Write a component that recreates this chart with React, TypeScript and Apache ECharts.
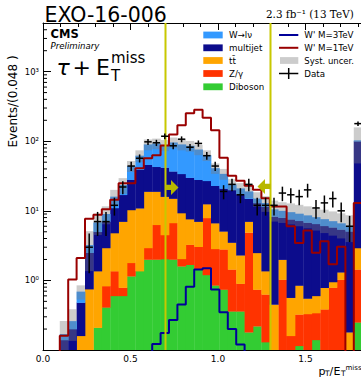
import React, { useEffect, useRef } from "react";
import * as echarts from "echarts";

// ---------------- data (bins of width 0.048 starting at 0) ----------------
const BIN_WIDTH = 0.048;
const X_TICK_LABELS = ["0.0", "0.5", "1.0", "1.5"];
const Y_TICK_EXPONENTS = [0, 1, 2, 3];
const CUT_LOW = 0.7;
const CUT_HIGH = 1.3;

const diboson = [0, 0, 0, 0, 0, 0, 0.21, 0.41, 0.6, 0.6, 1.15, 1.36, 2.0, 2.0, 2.03, 2.0, 1.6, 1.68, 1.44, 1.2, 0.85, 0.74, 0.36, 0.36, 0.18, 0.22, 0.13, 0, 0, 0, 0.115, 0, 0.14, 0, 0, 0, 0, 0.25];
const zgamma = [0, 0, 0, 0, 0, 0, 0, 0.42, 0.76, 0.19, 0.64, 0, 0.93, 4.3, 2.47, 4.7, 0.44, 1.59, 1.61, 6.7, 1.99, 2.06, 1.08, 0.54, 4.72, 0.52, 0.5, 0, 1.03, 0.16, 0.21, 0.33, 0.2, 0.385, 0.79, 1.03, 0, 1.19];
const ttbar = [0, 0, 0, 0, 0.16, 0.75, 1.15, 2.1, 3.44, 6.21, 8.51, 9.54, 15.97, 12.6, 11.5, 8.3, 7.26, 4.33, 3.95, 4.6, 3.82, 2.27, 2.06, 1.4, 2.1, 1.75, 0.73, 0.45, 0.96, 0.405, 0.52, 0.22, 0.26, 0.4, 0.16, 0.28, 0.18, 1.49];
const multijet = [0, 0, 0.14, 0.2, 0.32, 1.75, 3.64, 4.07, 6.2, 10.0, 17.7, 28.1, 27.1, 24.1, 26, 22, 24.7, 22.4, 21, 14.5, 16.3, 15.9, 16.5, 15.2, 8.0, 10.5, 10.1, 7.85, 6.0, 7.0, 6.35, 6.25, 5.9, 5.3, 4.85, 4.1, 4.89, 97];
const wlnu = [0, 0, 0.03, 0.06, 0.21, 0.73, 1.8, 2.0, 5.0, 6.5, 16, 23, 44, 50, 46, 59, 56, 56, 48, 36, 18, 13, 4, 3.5, 4, 2, 1.5, 2.2, 2.0, 2.0, 1.9, 1.8, 1.6, 1.5, 1.3, 1.2, 1.03, 3];
const systUnc = [0, 0, 0.09, 0.125, 0.16, 1.87, 2.3, 2.6, 4, 6, 8, 12, 16, 16, 16, 17, 16, 15, 13, 11, 7, 6, 4.5, 4, 3.8, 3.5, 3.3, 3.5, 3.3, 3.2, 3.1, 3.0, 2.9, 2.8, 2.7, 2.6, 2.55, 55];
const dataCounts: (number | null)[] = [null, null, null, null, null, 3, 7, 7, 12, 22, 44, 57, 98, 95, 118, 86, 107, 82, 93, 62, 44, 19, 24, 17, 24, 12, 12, 12, 18, 17, 16, 20, 11, 13, 15, 10, 6, 179];
const wprime1TeV = [0, 0, 0.16, 1.03, 2.1, 7.7, 8.8, 10.5, 14.4, 25, 25, 41, 57, 63, 87, 125, 170, 252, 283, 217, 144, 58, 32, 27, 23, 20, 15.2, 11.5, 11.5, 6, 3.45, 5.2, 2.5, 3.65, 1.7, 3.05, 0, 13];
const wprime3TeV = [0, 0, 0, 0, 0, 0, 0, 0, 0, 0, 0, 0, 0, 0.122, 0.175, 0.27, 0.45, 0.81, 1.43, 1.5, 0.74, 0.35, 0.2, 0.12, 0, 0, 0, 0, 0, 0, 0, 0, 0, 0, 0, 0, 0, 0];
const cutArrowLevels = [21.7, 22.4];

// ---------------- styling ----------------
const Y_MIN = 0.1;
const Y_MAX = 5000;
const X_MAX = 2.4;
const FLOOR = 1e-3;
const FONT = "DejaVu Sans";
const C_DIB = "#33cc33";
const C_Z = "#ff3300";
const C_TT = "#ffa500";
const C_MJ = "#0c0c8c";
const C_W = "#3399ff";
const C_BAND = "rgba(124,124,124,0.39)";
const C_1TEV = "#990000";
const C_3TEV = "#000099";
const C_CUT = "#c8c800";

const N = diboson.length;

function buildOption() {
  const layers = [
    { name: "Diboson", values: diboson, color: C_DIB },
    { name: "Z/\u03b3", values: zgamma, color: C_Z },
    { name: "tt\u0304", values: ttbar, color: C_TT },
    { name: "multijet", values: multijet, color: C_MJ },
    { name: "W\u2192l\u03bd", values: wlnu, color: C_W },
  ];
  const cum = new Array(N).fill(0);
  const stackSeries: any[] = layers.map((l) => {
    const data: number[][] = [];
    for (let i = 0; i < N; i++) {
      const lo = cum[i];
      const hi = lo + l.values[i];
      cum[i] = hi;
      if (l.values[i] > 0) data.push([i * BIN_WIDTH, (i + 1) * BIN_WIDTH, Math.max(lo, FLOOR), hi]);
    }
    return {
      type: "custom",
      name: l.name,
      z: 1,
      silent: true,
      clip: true,
      encode: { x: [0, 1], y: [2, 3] },
      data,
      renderItem: (params: any, api: any) => {
        const a = api.coord([api.value(0), api.value(3)]);
        const b = api.coord([api.value(1), api.value(2)]);
        return {
          type: "rect",
          shape: { x: a[0], y: a[1], width: b[0] - a[0] + 0.35, height: b[1] - a[1] + 0.3 },
          style: { fill: l.color },
        };
      },
    };
  });
  const total = cum.slice();

  const bandData: number[][] = [];
  for (let i = 0; i < N; i++) {
    if (systUnc[i] > 0) bandData.push([i * BIN_WIDTH, (i + 1) * BIN_WIDTH, Math.max(total[i] - systUnc[i], FLOOR), total[i] + systUnc[i]]);
  }
  const bandSeries = {
    type: "custom",
    name: "Syst. uncer.",
    z: 2,
    silent: true,
    clip: true,
    encode: { x: [0, 1], y: [2, 3] },
    data: bandData,
    renderItem: (params: any, api: any) => {
      const a = api.coord([api.value(0), api.value(3)]);
      const b = api.coord([api.value(1), api.value(2)]);
      return {
        type: "rect",
        shape: { x: a[0], y: a[1], width: b[0] - a[0], height: b[1] - a[1] },
        style: { fill: C_BAND },
      };
    },
  };

  const step = (vals: number[]) => {
    const d: number[][] = vals.map((v, i) => [i * BIN_WIDTH, v > 0 ? v : FLOOR]);
    d.push([N * BIN_WIDTH, vals[N - 1] > 0 ? vals[N - 1] : FLOOR]);
    return d;
  };
  const signal = (name: string, vals: number[], color: string) => ({
    type: "line",
    name,
    step: "end",
    z: 3,
    silent: true,
    symbol: "none",
    clip: true,
    data: step(vals),
    lineStyle: { color, width: 2 },
  });

  const dataSeries = {
    type: "custom",
    name: "Data",
    z: 6,
    silent: true,
    clip: true,
    encode: { x: [0, 1], y: 2 },
    data: dataCounts
      .map((v, i) => (v == null ? null : [i * BIN_WIDTH, (i + 1) * BIN_WIDTH, v]))
      .filter((d) => d != null),
    renderItem: (params: any, api: any) => {
      const x0 = api.value(0);
      const x1 = api.value(1);
      const v = api.value(2);
      const e = Math.sqrt(v);
      const xc = (x0 + x1) / 2;
      const pl = api.coord([x0, v]);
      const pr = api.coord([x1, v]);
      const pt = api.coord([xc, v + e]);
      const pb = api.coord([xc, Math.max(v - e, FLOOR)]);
      const st = { stroke: "#000", lineWidth: 1.5 };
      return {
        type: "group",
        children: [
          { type: "line", shape: { x1: pl[0] + 0.5, y1: pl[1], x2: pr[0] - 0.5, y2: pr[1] }, style: st },
          { type: "line", shape: { x1: pt[0], y1: pt[1], x2: pb[0], y2: pb[1] }, style: st },
        ],
      };
    },
  };

  const cutSeries = {
    type: "custom",
    name: "cuts",
    z: 5,
    silent: true,
    clip: true,
    encode: { x: 0, y: 1 },
    data: [
      [CUT_LOW, cutArrowLevels[0], 1],
      [CUT_HIGH, cutArrowLevels[1], -1],
    ],
    renderItem: (params: any, api: any) => {
      const x = api.value(0);
      const lvl = api.value(1);
      const dir = api.value(2);
      const top = api.coord([x, Y_MAX]);
      const bot = api.coord([x, Y_MIN]);
      const p = api.coord([x, lvl]);
      const pts = [
        [0, -2.6], [5.5, -2.6], [5.5, -7.5], [13, 0], [5.5, 7.5], [5.5, 2.6], [0, 2.6],
      ].map(([dx, dy]) => [p[0] + dir * dx, p[1] + dy]);
      return {
        type: "group",
        children: [
          { type: "line", shape: { x1: top[0], y1: top[1], x2: bot[0], y2: bot[1] }, style: { stroke: C_CUT, lineWidth: 2 } },
          { type: "polygon", shape: { points: pts }, style: { fill: "#b8b800" } },
        ],
      };
    },
  };

  const minorY: number[][] = [];
  for (let k = -1; k <= 3; k++) {
    for (let m = 2; m <= 9; m++) {
      const v = m * Math.pow(10, k);
      if (v < Y_MAX) minorY.push([0, v]);
    }
  }
  const minorTickSeries = {
    type: "custom",
    name: "minor",
    z: 7,
    silent: true,
    encode: { x: 0, y: 1 },
    data: minorY,
    renderItem: (params: any, api: any) => {
      const p = api.coord([api.value(0), api.value(1)]);
      return { type: "line", shape: { x1: p[0], y1: p[1], x2: p[0] + 4, y2: p[1] }, style: { stroke: "#000", lineWidth: 1 } };
    },
  };

  const SUP: Record<string, string> = { "0": "\u2070", "1": "\u00b9", "2": "\u00b2", "3": "\u00b3" };

  const axisLineStyle = { color: "#000", width: 1 };
  const xAxisBase = {
    type: "value",
    min: 0,
    max: X_MAX,
    interval: 0.5,
    axisLine: { show: true, onZero: false, lineStyle: axisLineStyle },
    axisTick: { show: true, inside: true, length: 7, lineStyle: { color: "#000" } },
    minorTick: { show: true, splitNumber: 5, length: 4, lineStyle: { color: "#000" } },
    splitLine: { show: false },
  };

  const txt = (text: string, x: number, y: number, size: number, extra: any = {}) => ({
    type: "text",
    x,
    y,
    z: 100,
    silent: true,
    style: {
      text,
      fontSize: size,
      fontFamily: FONT,
      fill: "#000",
      align: "left",
      textAlign: "left",
      verticalAlign: "middle",
      textVerticalAlign: "middle",
      ...extra,
    },
  });

  const rows = [35, 47.8, 60.5, 73.5, 86.8];
  const graphic: any[] = [
    txt("EXO-16-006", 44.5, 14.5, 20.5),
    txt("2.3 fb\u207b\u00b9 (13 TeV)", 266, 14, 10.4, { fontFamily: "DejaVu Serif" }),
    txt("CMS", 50.5, 34.2, 11.5, { fontWeight: "bold" }),
    txt("Preliminary", 50.5, 45.5, 8.6, { fontStyle: "italic" }),
    txt("\u03c4", 56.5, 67, 22, { fontStyle: "italic" }),
    txt("+", 72.5, 67, 22),
    txt("E", 96, 67, 22),
    txt("miss", 111, 57.5, 15),
    txt("T", 111, 75.5, 15),
    {
      type: "text",
      x: 12.5,
      y: 101.5,
      rotation: Math.PI / 2,
      z: 100,
      silent: true,
      style: { text: "Events/(0.048 )", fontSize: 12, fontFamily: FONT, fill: "#000", align: "center", textAlign: "center", verticalAlign: "middle", textVerticalAlign: "middle" },
    },
    txt("p", 318.5, 371.3, 11),
    txt("T", 325, 373.8, 7.5),
    txt("/", 329.5, 371.3, 11),
    txt("E", 333.5, 371.3, 11),
    txt("T", 341, 373.8, 7.5),
    txt("miss", 345.5, 367.8, 7),
  ];
  const leftLegend = [
    { label: "W\u2192l\u03bd", color: C_W },
    { label: "multijet", color: C_MJ },
    { label: "tt\u0304", color: C_TT },
    { label: "Z/\u03b3", color: C_Z },
    { label: "Diboson", color: C_DIB },
  ];
  leftLegend.forEach((it, i) => {
    graphic.push({ type: "rect", z: 100, silent: true, shape: { x: 203.3, y: rows[i] - 3.4, width: 19.4, height: 6.8 }, style: { fill: it.color } });
    graphic.push(txt(it.label, 229, rows[i], 8.7));
  });
  graphic.push({ type: "line", z: 100, silent: true, shape: { x1: 279, y1: rows[0], x2: 298.3, y2: rows[0] }, style: { stroke: C_3TEV, lineWidth: 2 } });
  graphic.push(txt("W' M=3TeV", 304.3, rows[0], 8.7));
  graphic.push({ type: "line", z: 100, silent: true, shape: { x1: 279, y1: rows[1], x2: 298.3, y2: rows[1] }, style: { stroke: C_1TEV, lineWidth: 2 } });
  graphic.push(txt("W' M=1TeV", 304.3, rows[1], 8.7));
  graphic.push({ type: "rect", z: 100, silent: true, shape: { x: 280, y: rows[2] - 3.4, width: 18.3, height: 6.8 }, style: { fill: "#cccccc" } });
  graphic.push(txt("Syst. uncer.", 304.3, rows[2], 8.5));
  graphic.push({ type: "line", z: 100, silent: true, shape: { x1: 279, y1: rows[3], x2: 298.3, y2: rows[3] }, style: { stroke: "#000", lineWidth: 1.5 } });
  graphic.push({ type: "line", z: 100, silent: true, shape: { x1: 288.7, y1: rows[3] - 5.5, x2: 288.7, y2: rows[3] + 5.5 }, style: { stroke: "#000", lineWidth: 1.5 } });
  graphic.push(txt("Data", 304.3, rows[3], 8.7));

  return {
    animation: false,
    backgroundColor: "#fff",
    grid: { left: 43, top: 23, width: 420, height: 327, containLabel: false },
    xAxis: [
      {
        ...xAxisBase,
        position: "bottom",
        axisLabel: {
          show: true,
          fontSize: 9,
          fontFamily: FONT,
          color: "#000",
          margin: 4,
          formatter: (v: number) => X_TICK_LABELS[Math.round(v / 0.5)] ?? "",
        },
      },
      { ...xAxisBase, position: "top", axisLabel: { show: false } },
    ],
    yAxis: {
      type: "log",
      logBase: 10,
      min: Y_MIN,
      max: Y_MAX,
      axisLine: { show: true, onZero: false, lineStyle: axisLineStyle },
      axisTick: { show: true, inside: true, length: 8, lineStyle: { color: "#000" } },
      minorTick: { show: false },
      splitLine: { show: false },
      axisLabel: {
        fontSize: 8.5,
        fontFamily: FONT,
        color: "#000",
        margin: 4,
        formatter: (v: number) => {
          const e = Math.log10(v);
          const r = Math.round(e);
          if (Math.abs(e - r) > 1e-6 || Y_TICK_EXPONENTS.indexOf(r) < 0) return "";
          return "10" + SUP[String(r)];
        },
      },
    },
    series: [
      ...stackSeries,
      bandSeries,
      signal("W' M=1TeV", wprime1TeV, C_1TEV),
      signal("W' M=3TeV", wprime3TeV, C_3TEV),
      cutSeries,
      dataSeries,
      minorTickSeries,
    ],
    graphic,
  };
}

export default function App() {
  const ref = useRef<HTMLDivElement>(null);
  useEffect(() => {
    if (!ref.current) return;
    const chart = echarts.init(ref.current, undefined, { renderer: "svg" });
    chart.setOption(buildOption() as any);
    return () => chart.dispose();
  }, []);
  return (
    <div style={{ position: "fixed", left: 0, top: 0, width: 361, height: 377, overflow: "hidden", background: "#fff" }}>
      <div ref={ref} style={{ width: 470, height: 377 }} />
    </div>
  );
}
